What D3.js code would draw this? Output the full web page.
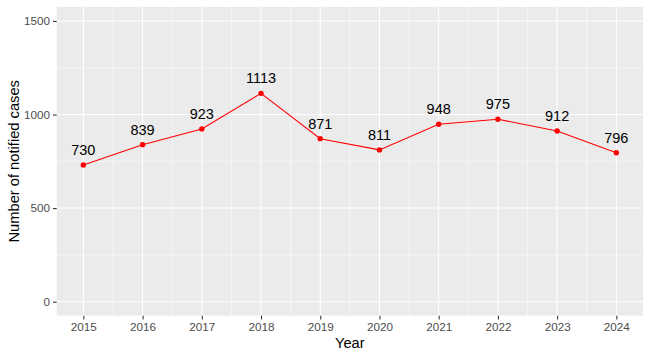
<!DOCTYPE html>
<html><head><meta charset="utf-8">
<script src="https://cdn.jsdelivr.net/npm/d3@7"></script>
<style>body{margin:0;background:#fff}svg{display:block;font-family:"Liberation Sans",Arial,sans-serif}</style>
</head><body><svg id="c" width="648" height="357"></svg>
<script>
const years = [2015,2016,2017,2018,2019,2020,2021,2022,2023,2024];
const cases = [730,839,923,1113,871,811,948,975,912,796];
const yTicks = [0,500,1000,1500];
const yMinor = [250,750,1250];

const svg = d3.select("#c");
const L=56.7, R=643, T=6.9, B=315.7;
const x = d3.scaleLinear().domain([2014.55,2024.45]).range([L,R]);
const y = d3.scaleLinear().domain([-75,1575]).range([B,T]);

svg.append("rect").attr("x",L).attr("y",T).attr("width",R-L).attr("height",B-T).attr("fill","#EBEBEB");
const g = svg.append("g");
const xMinor = years.slice(0,-1).map(v=>v+0.5);
g.selectAll(".ym").data(yMinor).join("line").attr("x1",L).attr("x2",R).attr("y1",d=>y(d)).attr("y2",d=>y(d)).attr("stroke","#fff").attr("stroke-width",0.53);
g.selectAll(".xm").data(xMinor).join("line").attr("y1",T).attr("y2",B).attr("x1",d=>x(d)).attr("x2",d=>x(d)).attr("stroke","#fff").attr("stroke-width",0.53);
g.selectAll(".yM").data(yTicks).join("line").attr("x1",L).attr("x2",R).attr("y1",d=>y(d)).attr("y2",d=>y(d)).attr("stroke","#fff").attr("stroke-width",1.07);
g.selectAll(".xM").data(years).join("line").attr("y1",T).attr("y2",B).attr("x1",d=>x(d)).attr("x2",d=>x(d)).attr("stroke","#fff").attr("stroke-width",1.07);

const yAxis = d3.axisLeft(y).tickValues(yTicks).tickFormat(d3.format("d")).tickSize(3.7).tickPadding(3);
const ya = svg.append("g").attr("transform",`translate(${L},0)`).call(yAxis);
const xAxis = d3.axisBottom(x).tickValues(years).tickFormat(d3.format("d")).tickSize(3.7).tickPadding(3);
const xa = svg.append("g").attr("transform",`translate(0,${B})`).call(xAxis);
[ya,xa].forEach(a=>{a.select(".domain").remove();a.selectAll(".tick line").attr("stroke","#333").attr("stroke-width",1.07);
 a.selectAll(".tick text").attr("fill","#4D4D4D").style("font-size","11.7px").style("font-family","Liberation Sans, Arial, sans-serif");});

svg.append("path").datum(years.map((d,i)=>[d,cases[i]]))
 .attr("d",d3.line().x(d=>x(d[0])).y(d=>y(d[1]))).attr("fill","none").attr("stroke","#FF0000").attr("stroke-width",1.07);
svg.selectAll(".pt").data(cases).join("circle").attr("cx",(d,i)=>x(years[i])).attr("cy",d=>y(d)).attr("r",2.7).attr("fill","#FF0000");
svg.selectAll(".lb").data(cases).join("text").attr("x",(d,i)=>x(years[i])).attr("y",d=>y(d)-10).attr("text-anchor","middle")
 .style("font-size","14.5px").attr("fill","#000").text(d=>d);

svg.append("text").attr("x",(L+R)/2).attr("y",348).attr("text-anchor","middle").style("font-size","14.7px").attr("fill","#000").text("Year");
svg.append("text").attr("transform",`translate(19,${(T+B)/2}) rotate(-90)`).attr("text-anchor","middle").style("font-size","14.7px").attr("fill","#000").text("Number of notified cases");
</script></body></html>
